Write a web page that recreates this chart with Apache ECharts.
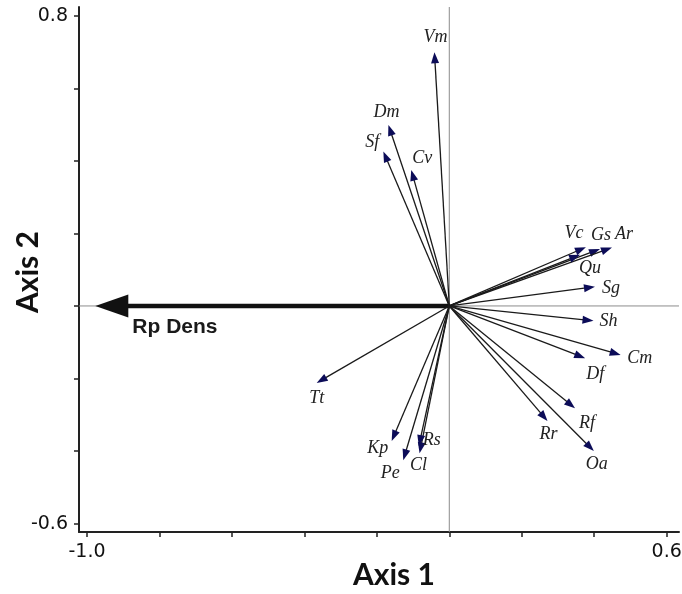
<!DOCTYPE html>
<html>
<head>
<meta charset="utf-8">
<script src="https://cdn.jsdelivr.net/npm/echarts@6/dist/echarts.min.js"></script>
<style>
  html, body { margin: 0; padding: 0; background: #fff; }
  #chart { width: 682px; height: 594px; }
</style>
</head>
<body>
<div id="chart"></div>
<script>
// species vectors (tip positions on the two ordination axes)
const species = ["Vm", "Dm", "Sf", "Cv", "Vc", "Gs", "Ar", "Qu", "Sg", "Sh",
  "Cm", "Df", "Rf", "Rr", "Oa", "Tt", "Kp", "Pe", "Cl", "Rs"];
const axis1 = [-0.041, -0.168, -0.182, -0.105, 0.377, 0.416, 0.449, 0.361, 0.402, 0.398,
  0.473, 0.375, 0.347, 0.271, 0.399, -0.366, -0.159, -0.127, -0.082, -0.084];
const axis2 = [0.699, 0.499, 0.426, 0.375, 0.162, 0.157, 0.161, 0.141, 0.053, -0.041,
  -0.135, -0.144, -0.282, -0.317, -0.400, -0.212, -0.372, -0.425, -0.406, -0.386];

// environmental vector
const envNames = ["Rp Dens"];
const envAxis1 = [-0.977];
const envAxis2 = [0];

const xTicks = [-1.0, -0.8, -0.6, -0.4, -0.2, 0, 0.2, 0.4, 0.6];
const xTickLabels = [-1.0, 0.6];
const yTicks = [-0.6, -0.4, -0.2, 0, 0.2, 0.4, 0.6, 0.8];
const yTickLabels = [-0.6, 0.8];

// label placement (pixels from arrow tip)
const labelOffset = {
  Vm: [1, -15], Dm: [-2, -13], Sf: [-11, -9], Cv: [11, -12],
  Vc: [-12, -14], Gs: [1, -14], Ar: [12, -13], Qu: [10, 13],
  Sg: [16, 2], Sh: [15, 0], Cm: [19, 3], Df: [10, 16],
  Rf: [12, 15], Rr: [1, 13], Oa: [3, 13], Tt: [0, 15],
  Kp: [-14, 7], Pe: [-13, 13], Cl: [-1, 12], Rs: [13, -6]
};

function arrowShape(p0, p1, headL, headW) {
  const dx = p1[0] - p0[0], dy = p1[1] - p0[1];
  const len = Math.hypot(dx, dy);
  const ux = dx / len, uy = dy / len;
  const bx = p1[0] - ux * headL, by = p1[1] - uy * headL;
  return {
    shaftEnd: [bx + ux * 2, by + uy * 2],
    head: [[p1[0], p1[1]], [bx - uy * headW, by + ux * headW], [bx + uy * headW, by - ux * headW]]
  };
}

function renderSpecies(params, api) {
  const p0 = api.coord([0, 0]);
  const p1 = api.coord([api.value(0), api.value(1)]);
  const name = species[params.dataIndex];
  const a = arrowShape(p0, p1, 11, 4);
  const off = labelOffset[name] || [0, 0];
  return {
    type: "group",
    children: [
      { type: "line", shape: { x1: p0[0], y1: p0[1], x2: a.shaftEnd[0], y2: a.shaftEnd[1] },
        style: { stroke: "#1a1a1a", lineWidth: 1.3 } },
      { type: "polygon", shape: { points: a.head }, style: { fill: "#0c0c58" } },
      { type: "text", x: p1[0] + off[0], y: p1[1] + off[1],
        style: { text: name, font: 'italic 18px "Liberation Serif"', fill: "#222",
          align: "center", verticalAlign: "middle" } }
    ]
  };
}

function renderEnv(params, api) {
  const p0 = api.coord([0, 0]);
  const p1 = api.coord([api.value(0), api.value(1)]);
  const a = arrowShape(p0, p1, 33, 11.5);
  return {
    type: "group",
    children: [
      { type: "line", shape: { x1: p0[0], y1: p0[1], x2: a.shaftEnd[0], y2: a.shaftEnd[1] },
        style: { stroke: "#111", lineWidth: 4.5 } },
      { type: "polygon", shape: { points: a.head }, style: { fill: "#111" } },
      { type: "text", x: p1[0] + 37, y: p1[1] + 21,
        style: { text: envNames[params.dataIndex], font: 'bold 21px "Liberation Sans"', fill: "#1a1a1a",
          align: "left", verticalAlign: "middle" } }
    ]
  };
}

function renderZero(params, api) {
  const cs = params.coordSys;
  const o = api.coord([0, 0]);
  const st = { stroke: "#8c8c8c", lineWidth: 1 };
  return {
    type: "group",
    children: [
      { type: "line", shape: { x1: o[0], y1: cs.y, x2: o[0], y2: cs.y + cs.height }, style: st },
      { type: "line", shape: { x1: cs.x, y1: o[1], x2: cs.x + cs.width, y2: o[1] }, style: st }
    ]
  };
}

const chart = echarts.init(document.getElementById("chart"));
const tickFont = { fontFamily: "DejaVu Sans", fontSize: 19, color: "#111" };

chart.setOption({
  animation: false,
  grid: { left: 79, right: 3, top: 7, bottom: 62, outerBoundsMode: "none" },
  xAxis: {
    type: "value", min: -1.022, max: 0.634,
    splitLine: { show: false },
    axisLine: { onZero: false, lineStyle: { color: "#222", width: 2 } },
    axisTick: { customValues: xTicks, length: 5, lineStyle: { color: "#222", width: 1.5 } },
    axisLabel: Object.assign({ customValues: xTickLabels, margin: 11,
      formatter: v => v.toFixed(1) }, tickFont)
  },
  yAxis: {
    type: "value", min: -0.623, max: 0.824,
    splitLine: { show: false },
    axisLine: { onZero: false, lineStyle: { color: "#222", width: 2 } },
    axisTick: { customValues: yTicks, length: 5, lineStyle: { color: "#222", width: 1.5 } },
    axisLabel: Object.assign({ customValues: yTickLabels, margin: 11,
      formatter: v => v.toFixed(1) }, tickFont)
  },
  graphic: [
    { type: "text", x: 394, y: 575,
      style: { text: "Axis 1", font: 'bold 30px "Lato"', fill: "#111", align: "center", verticalAlign: "middle" } },
    { type: "text", x: 28, y: 272, rotation: Math.PI / 2,
      style: { text: "Axis 2", font: 'bold 30px "Lato"', fill: "#111", align: "center", verticalAlign: "middle" } }
  ],
  series: [
    { type: "custom", name: "zero", renderItem: renderZero, data: [[0, 0]], z: 1, silent: true },
    { type: "custom", name: "species", renderItem: renderSpecies,
      data: species.map((s, i) => [axis1[i], axis2[i]]), z: 3 },
    { type: "custom", name: "env", renderItem: renderEnv,
      data: envNames.map((s, i) => [envAxis1[i], envAxis2[i]]), z: 2 }
  ]
});
</script>
</body>
</html>
